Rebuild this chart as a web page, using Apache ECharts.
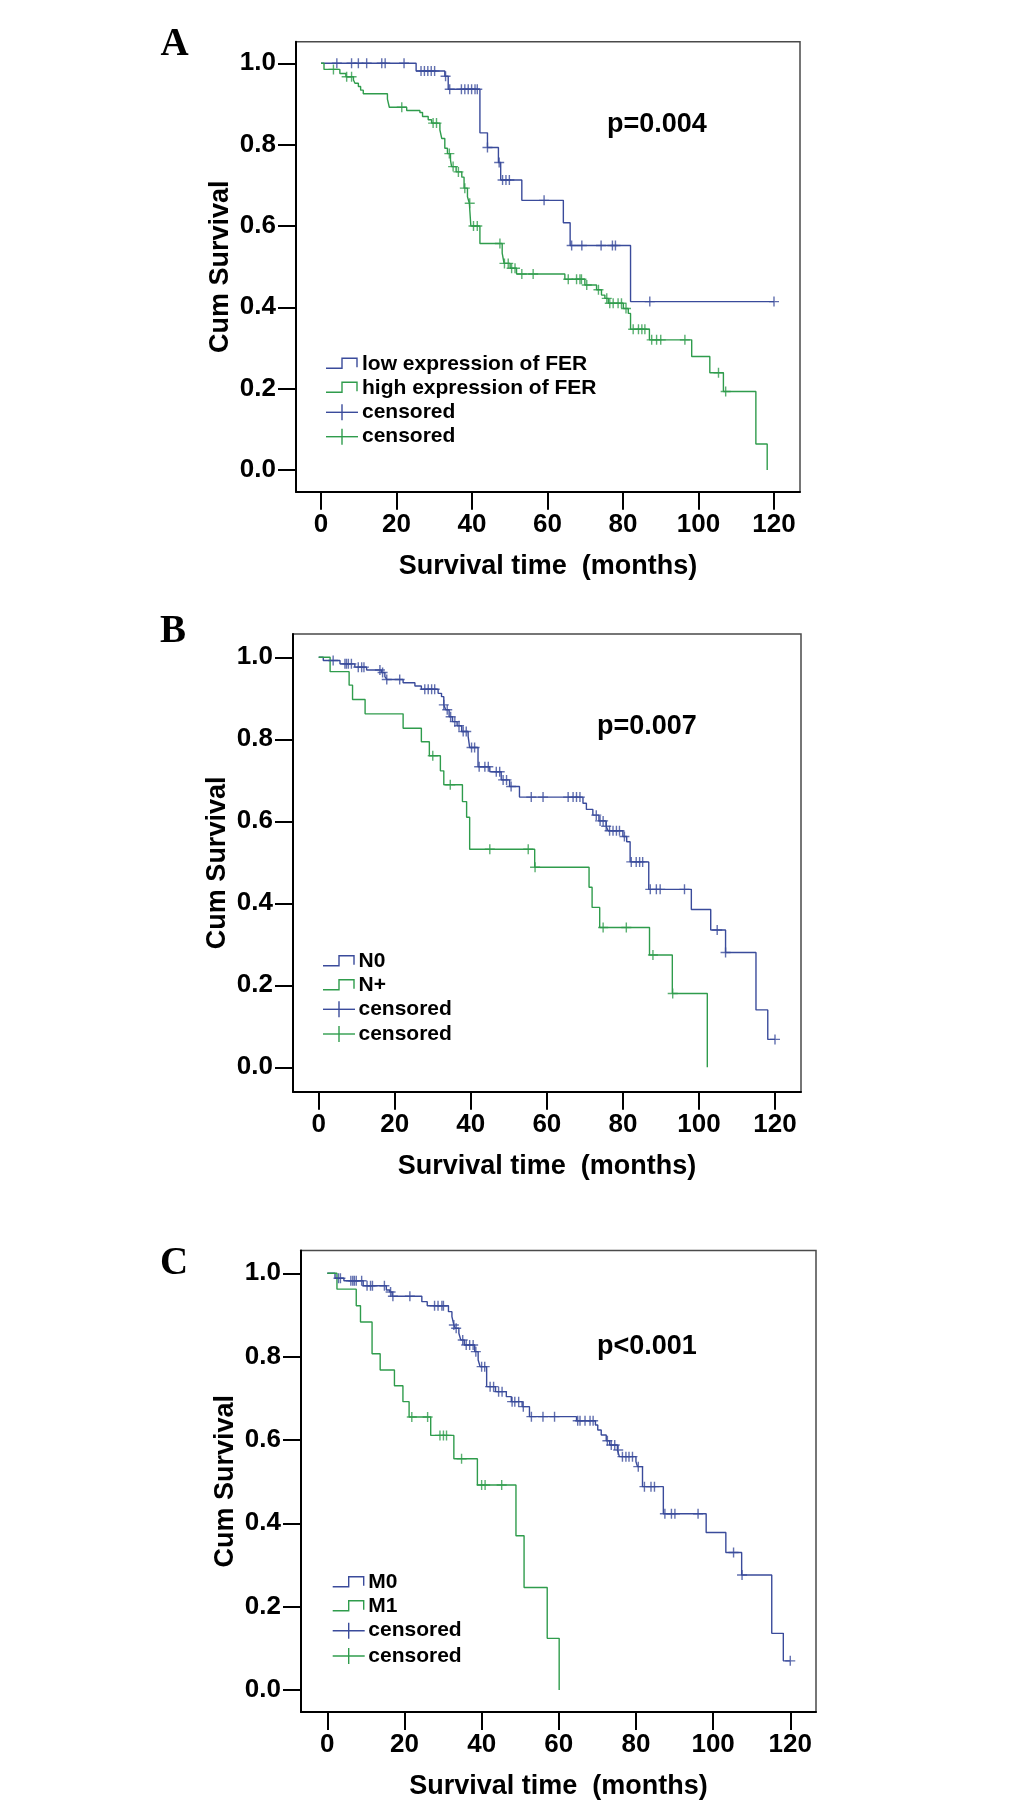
<!DOCTYPE html>
<html><head><meta charset="utf-8">
<script src="https://cdn.jsdelivr.net/npm/echarts@6/dist/echarts.min.js"></script>
<style>html,body{margin:0;padding:0;background:#fff}#c{width:1033px;height:1816px}</style>
</head><body><div id="c"></div>
<script>
// ---------- data ----------
const xTicks = [0, 20, 40, 60, 80, 100, 120];
const yTicks = [0, 0.2, 0.4, 0.6, 0.8, 1.0];
const panelLetters = ['A', 'B', 'C'];
const pValues = ['p=0.004', 'p=0.007', 'p<0.001'];
const xTitle = 'Survival time  (months)';
const yTitle = 'Cum Survival';

// Panel A : FER expression
const aGroupNames = ['low expression of FER', 'high expression of FER'];
const aLowSteps = [[0,1.0],[25.2,0.981],[32.8,0.968],[33.7,0.936],[42.1,0.829],[44.1,0.793],[47.0,0.756],[47.6,0.713],[53.2,0.663],[64.2,0.608],[66.0,0.552],[82.0,0.414],[120,0.414]];
const aLowCensored = [4.2,8.1,9.9,12.1,16.1,17.0,22.0,26.5,27.4,28.3,29.2,30.1,33.0,34.1,37.2,38.1,39.0,39.9,40.8,41.4,44.1,47.2,48.1,49.0,49.9,59.1,66.4,69.1,74.2,77.2,78.0,87.1,120];
const aHighSteps = [[0,1.0],[0.8,0.985],[5.0,0.975],[6.6,0.967],[8.6,0.959],[9.0,0.951],[9.9,0.943],[10.5,0.934],[11.2,0.925],[17.6,0.912],[18.1,0.892],[22.7,0.884],[26.2,0.879],[26.9,0.869],[28.4,0.861],[29.3,0.853],[31.5,0.836],[32.0,0.815],[32.8,0.791],[33.5,0.778],[34.3,0.762],[34.6,0.746],[35.8,0.733],[37.3,0.720],[37.9,0.693],[38.8,0.672],[39.3,0.656],[39.7,0.600],[42.1,0.557],[48.0,0.533],[48.5,0.508],[50.1,0.496],[51.8,0.482],[64.6,0.469],[69.9,0.455],[73.0,0.443],[74.3,0.430],[75.2,0.422],[76.1,0.410],[80.1,0.397],[81.4,0.385],[82.0,0.346],[87.0,0.320],[98.2,0.279],[103.0,0.239],[106.6,0.193],[115.2,0.064],[118.2,0.0]];
const aHighCensored = [3.3,6.8,8.1,21.4,29.7,30.6,34.0,35.0,36.4,38.1,39.4,40.4,41.4,47.4,48.6,49.6,50.5,51.4,53.2,56.2,65.5,67.7,68.6,69.0,70.4,73.5,75.7,76.5,77.4,78.7,79.6,80.8,82.7,84.1,85.0,85.8,87.6,88.9,90.0,96.4,105.3,107.2];

// Panel B : N stage
const bGroupNames = ['N0', 'N+'];
const bN0Steps = [[0,1.0],[1.2,0.992],[5.6,0.984],[9.5,0.976],[12.6,0.969],[16.5,0.963],[17.4,0.953],[17.9,0.946],[22.2,0.938],[25.3,0.930],[27.0,0.922],[31.4,0.912],[32.3,0.904],[32.9,0.884],[33.4,0.872],[34.3,0.855],[35.2,0.843],[36.4,0.833],[37.6,0.819],[39.3,0.807],[39.7,0.780],[41.9,0.733],[45.0,0.721],[48.0,0.701],[50.2,0.685],[52.8,0.659],[69.5,0.644],[70.4,0.629],[72.1,0.615],[73.7,0.601],[75.6,0.588],[76.1,0.577],[80.0,0.563],[81.0,0.550],[81.9,0.501],[86.8,0.434],[98.0,0.385],[103.1,0.335],[107.0,0.280],[115.0,0.140],[118.1,0.068],[120,0.068]];
const bN0Censored = [3.8,6.9,7.3,7.8,8.6,10.4,11.3,11.9,16.1,16.8,17.9,21.3,27.9,28.8,29.7,30.5,32.9,33.8,34.7,35.8,36.9,38.0,38.8,40.2,41.0,42.2,43.7,44.6,46.7,47.6,48.5,49.4,50.6,55.9,59.0,65.6,66.9,67.8,68.7,73.0,74.0,74.8,75.6,76.5,77.4,78.3,79.1,80.4,82.2,83.5,84.4,85.2,87.2,88.8,89.8,96.2,104.8,107.0,120];
const bNpSteps = [[0,1.0],[3.0,0.965],[8.0,0.932],[8.9,0.897],[12.2,0.862],[22.2,0.827],[27.0,0.794],[29.1,0.760],[32.0,0.723],[32.9,0.689],[37.8,0.648],[38.9,0.610],[39.7,0.532],[56.8,0.488],[71.1,0.439],[71.9,0.390],[73.9,0.341],[87.0,0.274],[93.0,0.180],[102.2,0.0]];
const bNpCensored = [30.0,34.6,45.0,55.1,56.9,74.8,80.9,87.9,93.1];

// Panel C : M stage
const cGroupNames = ['M0', 'M1'];
const cM0Steps = [[0,1.0],[2.0,0.988],[4.3,0.982],[9.3,0.970],[15.3,0.960],[16.2,0.955],[16.8,0.945],[24.5,0.932],[25.9,0.922],[31.4,0.908],[32.3,0.896],[32.8,0.876],[33.2,0.868],[34.1,0.856],[34.6,0.840],[35.5,0.828],[38.2,0.812],[39.1,0.792],[39.6,0.776],[41.3,0.728],[43.6,0.716],[46.4,0.704],[47.7,0.692],[50.5,0.680],[52.4,0.656],[64.6,0.646],[69.5,0.636],[70.1,0.624],[71.0,0.612],[72.3,0.598],[73.2,0.588],[75.2,0.576],[75.7,0.560],[80.0,0.548],[80.4,0.536],[81.7,0.488],[87.1,0.423],[98.2,0.378],[103.3,0.330],[107.4,0.276],[115.2,0.136],[118.2,0.070],[120,0.070]];
const cM0Censored = [2.9,3.4,6.1,6.6,7.0,7.5,8.9,10.3,11.2,11.7,14.8,16.4,17.0,21.4,27.8,28.7,29.7,30.1,32.8,33.4,35.1,36.0,36.9,37.8,38.5,40.0,40.8,42.2,43.1,44.4,45.3,47.9,48.6,49.6,50.8,52.9,55.9,58.9,64.9,65.5,66.8,68.1,68.9,72.6,73.6,74.5,75.4,76.5,77.4,78.2,79.1,80.6,82.2,83.9,84.8,87.5,89.2,90.1,96.1,105.3,107.5,120];
const cM1Steps = [[0,1.0],[2.5,0.962],[7.5,0.922],[8.6,0.883],[11.6,0.807],[13.7,0.768],[17.4,0.730],[19.6,0.692],[21.2,0.655],[26.8,0.611],[32.8,0.555],[38.9,0.492],[48.9,0.370],[51.0,0.246],[57.0,0.124],[60.1,0.0]];
const cM1Censored = [21.9,26.0,29.2,30.1,30.9,34.8,40.0,40.9,45.2];

// ---------- styling / layout ----------
const BLUE = '#3a4b9b', GREEN = '#2f9c4c';
const SANS = '"Liberation Sans", Arial, Helvetica, sans-serif';
const SERIF = '"Liberation Serif", "Times New Roman", serif';
const panels = [
  { grid:{left:296, top:41.7, width:504, height:450}, x:[-6.62,126.89], y:[-0.0534,1.0531],
    groups:aGroupNames, steps:[aLowSteps,aHighSteps], cens:[aLowCensored,aHighCensored],
    letter:[174.5,44.5], p:[607,125], leg:{x0:326, tx:362, rows:[364.3,388.3,412.3,436.7]} },
  { grid:{left:293, top:634, width:508, height:457.7}, x:[-6.76,126.84], y:[-0.0595,1.0568],
    groups:bGroupNames, steps:[bN0Steps,bNpSteps], cens:[bN0Censored,bNpCensored],
    letter:[173,631.7], p:[597,727], leg:{x0:323, tx:358.5, rows:[961.7,985.7,1009.3,1034]} },
  { grid:{left:301, top:1250.5, width:515, height:461.5}, x:[-6.82,126.67], y:[-0.0528,1.0547],
    groups:cGroupNames, steps:[cM0Steps,cM1Steps], cens:[cM0Censored,cM1Censored],
    letter:[174,1263.5], p:[597,1347], leg:{x0:332.7, tx:368.3, rows:[1582.7,1606.7,1630.7,1656]} }
];

function survAt(steps, t) {
  let s = steps[0][1];
  for (const [tt, v] of steps) if (tt <= t) s = v;
  return s;
}
const PLUS = 'path://M4.3,0 H5.7 V4.3 H10 V5.7 H5.7 V10 H4.3 V5.7 H0 V4.3 H4.3 Z';

const grids = [], xAxes = [], yAxes = [], series = [], graphics = [];
panels.forEach((P, i) => {
  grids.push(Object.assign({ show:true, borderColor:'#4a4a4a', borderWidth:1.5, backgroundColor:'#fff' }, P.grid));
  xAxes.push({ type:'value', gridIndex:i, min:P.x[0], max:P.x[1],
    axisLine:{ show:true, onZero:false, lineStyle:{ color:'#000', width:2 } },
    axisTick:{ show:true, customValues:xTicks, length:18, lineStyle:{ color:'#000', width:2 } },
    axisLabel:{ customValues:xTicks, margin:20, fontSize:26, fontWeight:'bold', color:'#000', fontFamily:SANS },
    splitLine:{ show:false },
    name:xTitle, nameLocation:'middle', nameGap:61,
    nameTextStyle:{ fontSize:27, fontWeight:'bold', color:'#000', fontFamily:SANS } });
  yAxes.push({ type:'value', gridIndex:i, min:P.y[0], max:P.y[1],
    axisLine:{ show:true, onZero:false, lineStyle:{ color:'#000', width:2 } },
    axisTick:{ show:true, customValues:yTicks, length:18, lineStyle:{ color:'#000', width:2 } },
    axisLabel:{ customValues:yTicks, margin:20, fontSize:26, fontWeight:'bold', color:'#000', fontFamily:SANS,
      formatter:v => Number(v).toFixed(1) },
    splitLine:{ show:false },
    name:yTitle, nameLocation:'middle', nameGap:62,
    nameTextStyle:{ fontSize:27, fontWeight:'bold', color:'#000', fontFamily:SANS } });
  const cols = [BLUE, GREEN];
  [0,1].forEach(g => {
    series.push({ type:'line', name:P.groups[g], xAxisIndex:i, yAxisIndex:i, data:P.steps[g], step:'end',
      showSymbol:false, silent:true, animation:false, z:2,
      lineStyle:{ color:cols[g], width:1.4 }, itemStyle:{ color:cols[g] } });
  });
  [0,1].forEach(g => {
    series.push({ type:'scatter', name:'censored', xAxisIndex:i, yAxisIndex:i,
      data:P.cens[g].map(t => [t, survAt(P.steps[g], t)]),
      symbol:PLUS, symbolSize:10, silent:true, animation:false, z:3,
      itemStyle:{ color:cols[g] } });
  });
  // panel letter
  graphics.push({ type:'text', x:P.letter[0], y:P.letter[1], silent:true,
    style:{ text:panelLetters[i], font:'bold 39px ' + SERIF, fill:'#000',
      textAlign:'center', align:'center', textVerticalAlign:'middle', verticalAlign:'middle' } });
  // p value
  graphics.push({ type:'text', x:P.p[0], y:P.p[1], silent:true,
    style:{ text:pValues[i], font:'bold 27px ' + SANS, fill:'#000',
      textAlign:'left', align:'left', textVerticalAlign:'middle', verticalAlign:'middle' } });
  // legend
  const L = P.leg, labels = [P.groups[0], P.groups[1], 'censored', 'censored'];
  [0,1].forEach(g => {
    const y = L.rows[g], x0 = L.x0;
    graphics.push({ type:'polyline', silent:true,
      shape:{ points:[[x0,y+4],[x0+16,y+4],[x0+16,y-6],[x0+31,y-6],[x0+31,y+3]] },
      style:{ stroke:cols[g], lineWidth:1.4, fill:null } });
  });
  [0,1].forEach(g => {
    const y = L.rows[g+2], x0 = L.x0;
    graphics.push({ type:'line', silent:true, shape:{ x1:x0, y1:y, x2:x0+32, y2:y }, style:{ stroke:cols[g], lineWidth:1.4 } });
    graphics.push({ type:'line', silent:true, shape:{ x1:x0+16, y1:y-8, x2:x0+16, y2:y+8 }, style:{ stroke:cols[g], lineWidth:1.4 } });
  });
  labels.forEach((t, r) => {
    graphics.push({ type:'text', x:L.tx, y:L.rows[r], silent:true,
      style:{ text:t, font:'bold 21px ' + SANS, fill:'#000',
        textAlign:'left', align:'left', textVerticalAlign:'middle', verticalAlign:'middle' } });
  });
});

const chart = echarts.init(document.getElementById('c'), null, { renderer:'canvas' });
chart.setOption({
  backgroundColor:'#fff',
  animation:false,
  grid:grids, xAxis:xAxes, yAxis:yAxes, series:series,
  graphic:{ elements:graphics }
});
</script></body></html>
